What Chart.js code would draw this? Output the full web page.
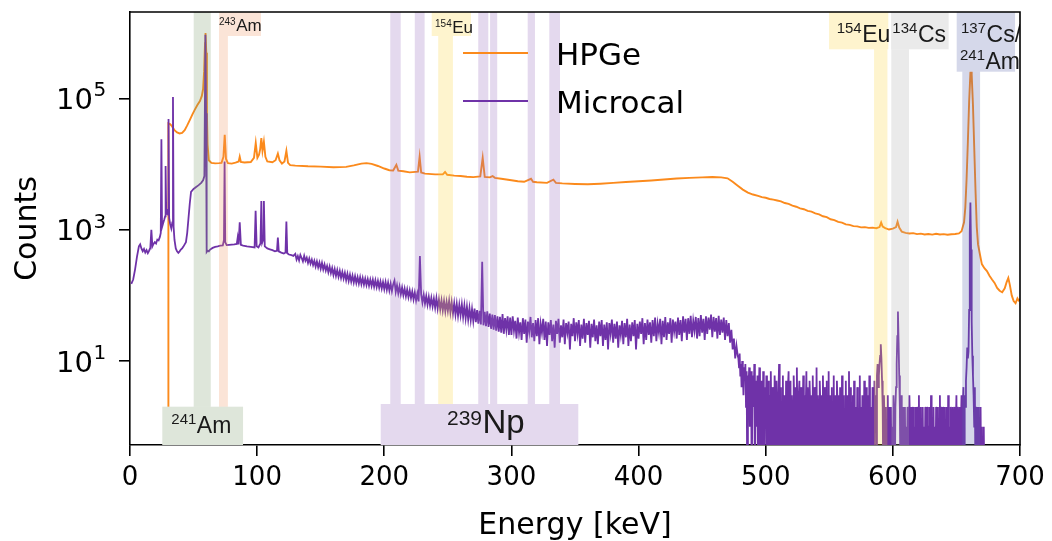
<!DOCTYPE html>
<html>
<head>
<meta charset="utf-8">
<title>HPGe vs Microcal spectrum</title>
<script src="https://cdn.jsdelivr.net/npm/chart.js@4.4.1/dist/chart.umd.min.js"></script>
<style>
  html, body { margin: 0; padding: 0; background: #fff; }
  #wrap { width: 1052px; height: 541px; position: relative; }
</style>
</head>
<body>
<div id="wrap"><canvas id="spectrum"></canvas></div>
<script>
// spectrum.html - HPGe vs Microcal gamma spectrum

// HPGe spectrum, [energy keV, counts]
const hpgeSpectrum = [
  [0, 0], [30.0, 0], [30.2, 42000], [31.5, 41000], [33, 38000], [35, 33000], [37, 30500], [39, 29500],
  [41, 30000], [43, 33000], [45, 39000], [47, 47000], [49, 57000], [51, 68000], [53, 80000], [55, 92000],
  [56.5, 110000], [57.5, 140000], [58.3, 260000], [59.0, 700000], [59.4, 1000000], [60.0, 500000],
  [60.5, 60000], [61.0, 20000], [62, 11500], [64, 10500], [67, 10300], [70, 10400], [72, 10500],
  [73.5, 13000], [74.5, 28000], [75.5, 12000], [77, 10400], [80, 10200], [83, 10600], [85.5, 11000],
  [86.3, 13000], [87.2, 10800], [90, 10600], [95, 10800], [97.5, 12500], [98.9, 21000], [100.2, 12500],
  [101.5, 14000], [102.4, 17000], [103.3, 25000], [104.2, 16000], [105.3, 22000], [106.5, 13000],
  [108, 11000], [112, 10700], [114.5, 11500], [116.3, 14500], [117.6, 11500], [119.5, 10200],
  [121.5, 11000], [123, 16000], [124.3, 10500], [126, 9700], [130, 9500], [140, 9300], [150, 9200],
  [160, 9000], [170, 9100], [176, 9600], [182, 10200], [186, 10400], [190, 10100], [195, 9400],
  [200, 8600], [204, 8100], [207, 8000], [209.5, 9800], [211, 8000], [215, 7800], [220, 7500],
  [226.5, 7700], [227.8, 13000], [229, 7500], [232, 7200], [240, 7000], [246, 7000], [247.8, 7600],
  [249.5, 6900], [255, 6700], [260, 6600], [265, 6450], [270, 6350], [275.5, 6500], [277.4, 12500],
  [279, 6400], [283, 6300], [285.2, 6600], [287, 6200], [292, 6000], [300, 5700], [305, 5500],
  [310, 5400], [315.4, 6000], [317, 5400], [320, 5300], [328, 5200], [333, 5800], [335, 5200],
  [340, 5100], [350, 5000], [360, 4950], [370, 5050], [380, 5200], [390, 5350], [400, 5500],
  [410, 5650], [420, 5850], [430, 6050], [440, 6200], [450, 6300], [458, 6400], [465, 6300],
  [470, 6100], [474, 5400], [478, 4700], [482, 4100], [486, 3700], [490, 3450], [494, 3300],
  [497, 3150], [500, 3080], [503, 2950], [506, 2880], [509, 2800], [512, 2720], [515, 2560],
  [518, 2480], [521, 2330], [524, 2250], [527, 2120], [530, 2060], [533, 1940], [536, 1890],
  [539, 1780], [542, 1720], [545, 1610], [548, 1560], [551, 1450], [554, 1410], [557, 1320],
  [560, 1290], [563, 1210], [566, 1190], [569, 1140], [572, 1130], [575, 1090], [578, 1100],
  [581, 1070], [584, 1080], [587, 1060], [589.5, 1100], [590.8, 1290], [592, 1120], [594, 1060],
  [597, 1010], [600, 1040], [602.5, 1100], [603.7, 1330], [605, 1080], [607, 940], [610, 900],
  [613, 880], [616, 890], [619, 860], [622, 875], [625, 850], [628, 865], [631, 845], [634, 870],
  [637, 850], [640, 860], [643, 840], [646, 855], [649, 865], [652, 880], [654, 950], [656, 1300],
  [657, 2200], [658, 6000], [659, 22000], [660, 90000], [661, 250000], [661.5, 290000], [662, 230000],
  [663, 80000], [664, 18000], [665, 4000], [666, 1100], [667, 600], [668.5, 420], [670, 300],
  [672, 260], [674, 235], [676, 200], [678, 175], [680, 155], [682, 130], [684, 118], [686, 112],
  [688, 128], [689.5, 160], [690.8, 185], [692, 145], [693.5, 100], [695, 82], [696.5, 76],
  [698, 90], [699, 84], [700, 88],
];

// Microcal below 130 keV (fluorescence lines and 241Am), [energy keV, counts]
const microcalLow = [
  [1.0, 150], [2.5, 175], [4.0, 250], [5.5, 390], [7.0, 560], [8.0, 600], [9.0, 520], [10, 470],
  [11, 510], [12, 450], [13, 490], [14, 440], [15, 480], [16, 530], [16.8, 1000], [17.6, 560],
  [18.5, 610], [19.5, 650], [20.5, 620], [21.5, 710], [22.5, 690], [23.5, 780], [24.2, 900],
  [24.7, 24000], [25.2, 1100], [26, 1250], [27, 1450], [27.6, 1600], [28.0, 9400], [28.5, 1750],
  [29.3, 1900], [29.9, 1700], [30.3, 49000], [30.8, 1500], [31.5, 1250], [32.5, 1050], [33.3, 1300],
  [33.8, 106000], [34.3, 1100], [35, 700], [36, 520], [37, 470], [38, 445], [39, 470], [40, 500],
  [41, 520], [42, 555], [43, 600], [44, 650], [45, 900], [46, 1500], [47, 2500], [48, 3800],
  [50, 4200], [52, 4500], [54, 4800], [56, 5200], [57.5, 5700], [58.5, 6600], [59.3, 940000],
  [59.8, 60000], [60.3, 460], [61, 480], [62, 470], [63, 500], [65, 530], [67, 550], [69, 560],
  [71, 575], [73, 580], [73.9, 700], [74.4, 11000], [74.9, 650], [76, 585], [78, 590], [80, 595],
  [82, 600], [84, 610], [84.7, 760], [85.4, 600], [86.3, 1300], [87.2, 590], [89, 575], [92, 560],
  [95, 550], [98, 540], [98.8, 1950], [99.6, 560], [101, 540], [102.6, 620], [103.3, 2750],
  [104, 640], [104.7, 700], [105.3, 2750], [106, 560], [108, 520], [110, 505], [112, 490],
  [114, 470], [115.6, 480], [116.3, 760], [117, 470], [119, 450], [121, 435], [122.3, 450],
  [123, 1340], [123.7, 440], [125, 420], [127, 410], [128.5, 400],
];

// Microcal continuum, 1 keV bins from 130 keV
const MID_START = 130;
const MID_BIN = 1;
const microcalMid = [
  430, 352, 398, 341, 415, 372, 330, 401, 338, 376,
  312, 366, 305, 352, 291, 338, 276, 330, 268, 318,
  255, 312, 249, 296, 240, 281, 226, 275, 219, 262,
  205, 252, 198, 243, 192, 236, 185, 228, 181, 221,
  171, 213, 166, 207, 162, 200, 157, 196, 155, 190,
  151, 189, 149, 184, 146, 180, 144, 177, 141, 174,
  139, 173, 136, 170, 134, 166, 131, 163, 128, 160,
  125, 160, 122, 156, 119, 151, 116, 147, 168, 113,
  142, 108, 137, 104, 132, 101, 127, 97, 123, 94,
  119, 91, 115, 87, 111, 84, 107, 81, 400, 104,
  78, 102, 75, 98, 72, 95, 70, 92, 68, 89,
  65, 91, 63, 87, 61, 84, 59, 82, 57, 80,
  58, 83, 55, 79, 53, 76, 51, 74, 49, 72,
  50, 73, 47, 70, 45, 67, 43, 64, 42, 62,
  41, 63, 39, 60, 37, 58, 36, 327, 35, 56,
  34, 57, 33, 53, 31, 51, 30, 50, 29, 48,
  28, 47, 27, 52, 26, 45, 30, 48, 25, 46,
  25, 48, 29, 41, 22, 46, 27, 39, 21, 45,
  26, 43, 19, 40, 28, 47, 23, 38, 20, 42,
  24, 45, 18, 37, 27, 44, 21, 40, 17, 39,
  25, 42, 20, 36, 16, 41, 26, 44, 19, 35,
  23, 43, 18, 38, 27, 40, 15, 37, 24, 45,
  20, 39, 26, 42, 17, 36, 22, 44, 19, 38,
  25, 41, 16, 37, 23, 43, 20, 35, 18, 40,
  24, 42, 17, 36, 21, 39, 15, 38, 26, 43,
  19, 37, 22, 40, 16, 35, 25, 41, 18, 38,
  23, 44, 17, 36, 20, 39, 24, 42, 15, 37,
  22, 40, 26, 45, 18, 38, 21, 43, 25, 39,
  19, 42, 24, 46, 20, 37, 27, 44, 18, 41,
  23, 47, 21, 39, 26, 45, 19, 43, 28, 40,
  22, 46, 25, 42, 20, 48, 27, 44, 21, 45,
  26, 49, 23, 41, 29, 47, 22, 45, 24, 50,
  27, 44, 21, 48, 26, 46, 30, 51, 23, 47,
  28, 45, 22, 49, 25, 43, 27, 46, 21, 42,
  24, 38, 19, 30, 15, 22, 11, 17, 12,
];

// Microcal above the cutoff, 0.5 keV bins from 478.5 keV (integer counts)
const HIGH_START = 478.5;
const HIGH_BIN = 0.5;
const microcalHigh = [
  11, 8, 13, 6, 9, 4, 10, 7, 3, 8,
  5, 9, 2, 7, 0, 6, 4, 8, 1, 5,
  7, 0, 3, 6, 2, 9, 0, 4, 5, 1,
  6, 0, 3, 8, 0, 2, 5, 1, 0, 7,
  3, 0, 4, 1, 6, 0, 2, 5, 0, 3,
  0, 7, 1, 0, 4, 2, 0, 6, 3, 0,
  5, 1, 0, 3, 9, 0, 2, 4, 0, 1,
  6, 0, 3, 2, 0, 5, 1, 0, 4, 7,
  0, 2, 5, 0, 3, 1, 0, 6, 2, 0,
  4, 0, 8, 1, 0, 3, 5, 0, 2, 4,
  0, 1, 6, 0, 3, 0, 2, 7, 0, 4,
  1, 0, 5, 2, 0, 3, 0, 6, 1, 0,
  4, 2, 0, 8, 0, 3, 1, 0, 5, 2,
  0, 3, 0, 6, 1, 0, 4, 2, 0, 5,
  0, 2, 7, 0, 1, 3, 0, 4, 0, 2,
  6, 0, 1, 3, 0, 5, 2, 0, 3, 0,
  4, 1, 0, 6, 0, 2, 3, 0, 1, 5,
  0, 3, 0, 2, 7, 0, 1, 4, 0, 2,
  3, 0, 5, 1, 0, 2, 0, 4, 3, 0,
  1, 6, 0, 2, 0, 3, 1, 0, 5, 0,
  2, 4, 0, 1, 3, 0, 6, 0, 2, 1,
  0, 4, 2, 0, 5, 1, 3, 0, 6, 9,
  4, 6, 9, 12, 18, 11, 5, 2, 0, 3,
  1, 0, 2, 0, 1, 3, 0, 2, 0, 1,
  2, 0, 1, 0, 3, 1, 0, 2, 4, 9,
  24, 57, 20, 6, 2, 0, 3, 1, 0, 2,
  0, 1, 2, 0, 1, 0, 2, 1, 0, 3,
  1, 0, 2, 0, 1, 2, 0, 1, 0, 2,
  0, 2, 1, 0, 3, 0, 1, 2, 0, 1,
  2, 0, 1, 0, 2, 1, 0, 2, 1, 0,
  1, 2, 0, 3, 0, 1, 0, 2, 0, 1,
  0, 2, 1, 0, 2, 0, 1, 3, 0, 2,
  1, 0, 2, 1, 0, 2, 0, 1, 2, 0,
  3, 0, 1, 0, 2, 1, 0, 2, 0, 1,
  2, 0, 1, 3, 0, 2, 1, 0, 2, 0,
  1, 3, 0, 2, 4, 0, 3, 2, 5, 8,
  16, 11, 14, 60, 900, 2600, 500, 40, 12, 6,
  3, 1, 4, 0, 2, 1, 0, 2, 0, 1,
  0, 2, 0, 1, 0, 0, 1, 0,
];

// marked line regions, [from keV, to keV]
const am241Bands = [[50.1, 63.5]];
const am243Bands = [[70.0, 77.0]];
const np239Bands = [[204.7, 212.9], [224.0, 231.7], [273.9, 281.8], [283.2, 288.8], [312.8, 318.5], [329.8, 338.2]];
const eu154Bands = [[242.4, 254.0], [585.2, 595.7]];
const cs134Bands = [[598.8, 612.7]];
const cs137Bands = [[654.6, 668.6]];

const yTickValues = [10, 1000, 100000];
const yTickExponents = ['1', '3', '5'];

const ORANGE = '#fb8a1c';
const PURPLE = '#6f32a8';
const Y_MIN = 0.525;   // zero counts get drawn below the axis floor like matplotlib's clip
const Y_MAX = 2.09e6;

const BAND_COLORS = {
  am241: 'rgba(123,155,107,0.25)',
  am243: 'rgba(239,147,95,0.25)',
  np239: 'rgba(148,103,189,0.25)',
  eu154: 'rgba(250,210,60,0.25)',
  cs134: 'rgba(170,170,170,0.25)',
  cs137: 'rgba(87,99,171,0.25)',
};

const bands = [
  ...am241Bands.map(b => ({ iso: 'am241', range: b })),
  ...am243Bands.map(b => ({ iso: 'am243', range: b })),
  ...np239Bands.map(b => ({ iso: 'np239', range: b })),
  ...eu154Bands.map(b => ({ iso: 'eu154', range: b })),
  ...cs134Bands.map(b => ({ iso: 'cs134', range: b })),
  ...cs137Bands.map(b => ({ iso: 'cs137', range: b })),
];

// label boxes: x range in keV, depth in px from the top or bottom spine
const isotopeLabels = [
  { iso: 'am243', from: 70.0, to: 103.0, edge: 'top', depth: 24, supSize: 10, size: 17,
    lines: [{ at: 70.0, sup: '243', text: 'Am', base: 18.7, supBase: 13 }] },
  { iso: 'eu154', from: 237.3, to: 268.2, edge: 'top', depth: 24, supSize: 10, size: 17,
    lines: [{ at: 239.9, sup: '154', text: 'Eu', base: 20.7, supBase: 15.3 }] },
  { iso: 'eu154', from: 549.8, to: 596.4, edge: 'top', depth: 37.3, supSize: 15, size: 23,
    lines: [{ at: 555.8, sup: '154', text: 'Eu', base: 29.7, supBase: 20.7 }] },
  { iso: 'cs134', from: 598.8, to: 643.9, edge: 'top', depth: 37.3, supSize: 15, size: 23,
    lines: [{ at: 599.6, sup: '134', text: 'Cs', base: 29.7, supBase: 20.7 }] },
  { iso: 'cs137', from: 650.2, to: 696.1, edge: 'top', depth: 59.7, supSize: 15, size: 23,
    lines: [{ at: 653.6, sup: '137', text: 'Cs/', base: 29.7, supBase: 20.7 },
            { at: 652.8, sup: '241', text: 'Am', base: 57.3, supBase: 48 }] },
  { iso: 'am241', from: 25.4, to: 88.9, edge: 'bottom', depth: 38.3, supSize: 15, size: 23,
    lines: [{ at: 32.5, sup: '241', text: 'Am', base: 11.7, supBase: 21 }] },
  { iso: 'np239', from: 197.2, to: 352.6, edge: 'bottom', depth: 41, supSize: 21, size: 33,
    lines: [{ at: 249.3, sup: '239', text: 'Np', base: 11.7, supBase: 20 }] },
];

function floorZero(c) {
  return c > 0 ? c : 0.1;
}

function buildMicrocal() {
  const pts = microcalLow.map(([e, c]) => ({ x: e, y: floorZero(c) }));
  microcalMid.forEach((c, i) => pts.push({ x: MID_START + i * MID_BIN, y: floorZero(c) }));
  microcalHigh.forEach((c, i) => pts.push({ x: HIGH_START + i * HIGH_BIN, y: floorZero(c) }));
  return pts;
}

function drawSupText(ctx, x, base, supBase, sup, text, supSize, size) {
  ctx.font = supSize + 'px "Liberation Sans"';
  ctx.fillText(sup, x, supBase);
  const w = ctx.measureText(sup).width;
  ctx.font = size + 'px "Liberation Sans"';
  ctx.fillText(text, x + w + 0.5, base);
}

const isotopeMarks = {
  id: 'isotopeMarks',
  afterDatasetsDraw(chart) {
    const { ctx, chartArea: a, scales: { x } } = chart;
    ctx.save();
    ctx.beginPath();
    ctx.rect(a.left, a.top, a.right - a.left, a.bottom - a.top);
    ctx.clip();
    bands.forEach(({ iso, range }) => {
      const x0 = x.getPixelForValue(range[0]);
      const x1 = x.getPixelForValue(range[1]);
      ctx.fillStyle = BAND_COLORS[iso];
      ctx.fillRect(x0, a.top, x1 - x0, a.bottom - a.top);
    });
    ctx.textBaseline = 'alphabetic';
    isotopeLabels.forEach(lab => {
      const x0 = x.getPixelForValue(lab.from);
      const x1 = x.getPixelForValue(lab.to);
      const y0 = lab.edge === 'top' ? a.top : a.bottom - lab.depth;
      ctx.fillStyle = '#fff';
      ctx.fillRect(x0, y0, x1 - x0, lab.depth);
      ctx.fillStyle = BAND_COLORS[lab.iso];
      ctx.fillRect(x0, y0, x1 - x0, lab.depth);
      ctx.fillStyle = '#1a1a1a';
      lab.lines.forEach(line => {
        const base = lab.edge === 'top' ? a.top + line.base : a.bottom - line.base;
        const supBase = lab.edge === 'top' ? a.top + line.supBase : a.bottom - line.supBase;
        drawSupText(ctx, x.getPixelForValue(line.at), base, supBase, line.sup, line.text, lab.supSize, lab.size);
      });
    });
    ctx.restore();
  },
};

const frameAndLegend = {
  id: 'frameAndLegend',
  afterDraw(chart) {
    const { ctx, chartArea: a, scales: { y } } = chart;
    ctx.save();
    ctx.strokeStyle = '#000';
    ctx.lineWidth = 1.6;
    ctx.beginPath();
    ctx.moveTo(a.left - 0.8, a.top);
    ctx.lineTo(a.right, a.top);
    ctx.lineTo(a.right, a.bottom + 0.8);
    ctx.stroke();

    // log tick labels as 10 with a raised exponent
    ctx.fillStyle = '#000';
    ctx.textBaseline = 'alphabetic';
    yTickValues.forEach((v, i) => {
      const py = y.getPixelForValue(v);
      ctx.font = '29px "DejaVu Sans"';
      ctx.textAlign = 'right';
      ctx.fillText('10', a.left - 37, py + 10.5);
      ctx.font = '20px "DejaVu Sans"';
      ctx.textAlign = 'left';
      ctx.fillText(yTickExponents[i], a.left - 36.5, py - 2.3);
    });

    // legend, no frame, upper middle
    ctx.font = '31px "DejaVu Sans"';
    ctx.textAlign = 'left';
    chart.data.datasets.forEach((ds, i) => {
      const base = a.top + 52.5 + i * 48;
      ctx.strokeStyle = ds.borderColor;
      ctx.lineWidth = 2;
      ctx.beginPath();
      ctx.moveTo(463, base - 11.5);
      ctx.lineTo(528, base - 11.5);
      ctx.stroke();
      ctx.fillStyle = '#000';
      ctx.fillText(ds.label, 556, base);
    });
    ctx.restore();
  },
};

Chart.defaults.font.family = '"DejaVu Sans"';
Chart.defaults.color = '#000';

new Chart(document.getElementById('spectrum'), {
  type: 'line',
  data: {
    datasets: [
      { label: 'HPGe', data: hpgeSpectrum.map(([e, c]) => ({ x: e, y: floorZero(c) })),
        borderColor: ORANGE, borderWidth: 1.9, order: 1 },
      { label: 'Microcal', data: buildMicrocal(),
        borderColor: PURPLE, borderWidth: 1.8, order: 0 },
    ],
  },
  options: {
    responsive: true,
    maintainAspectRatio: false,
    animation: false,
    layout: { padding: { top: 12, right: 32, left: 0, bottom: 0 } },
    elements: { point: { radius: 0 }, line: { tension: 0 } },
    plugins: { legend: { display: false }, tooltip: { enabled: false } },
    scales: {
      x: {
        type: 'linear', min: 0, max: 700, z: 1,
        ticks: { stepSize: 100, font: { size: 26 }, color: '#000', padding: 7, maxRotation: 0 },
        grid: { drawOnChartArea: false, color: '#000', lineWidth: 1.6, tickLength: 11 },
        border: { color: '#000', width: 1.6 },
        title: { display: true, text: 'Energy [keV]', font: { size: 30 }, color: '#000', padding: { top: 0, bottom: -3 } },
        afterFit: s => { s.height = 96; s.paddingLeft = 0; s.paddingRight = 0; },
      },
      y: {
        type: 'logarithmic', min: Y_MIN, max: Y_MAX, z: 1,
        afterBuildTicks: s => { s.ticks = yTickValues.map(v => ({ value: v })); },
        ticks: { display: false },
        grid: { drawOnChartArea: false, color: '#000', lineWidth: 1.6, tickLength: 11 },
        border: { color: '#000', width: 1.6 },
        title: { display: true, text: 'Counts', font: { size: 30 }, color: '#000', padding: { top: 10, bottom: 0 } },
        afterFit: s => { s.width = 130; s.paddingTop = 0; s.paddingBottom = 0; },
      },
    },
  },
  plugins: [isotopeMarks, frameAndLegend],
});
</script>
</body>
</html>
